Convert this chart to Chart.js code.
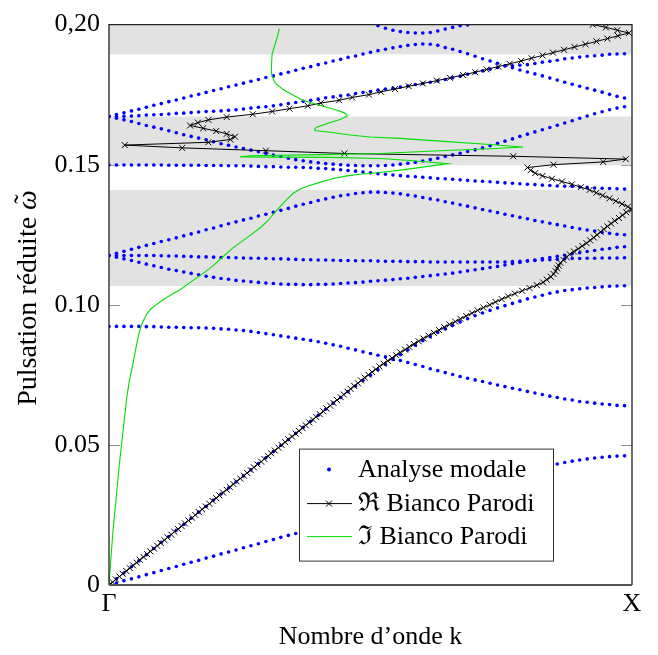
<!DOCTYPE html>
<html><head><meta charset="utf-8">
<script src="https://cdn.jsdelivr.net/npm/chart.js@4/dist/chart.umd.min.js"></script>
<style>html,body{margin:0;padding:0;background:#fff}canvas{display:block}</style>
</head><body>
<canvas id="c" width="658" height="655"></canvas>
<script>
// ---- wave numbers of the modal analysis (dots) ----
const K = [0,0.0143,0.0286,0.0429,0.0571,0.0714,0.0857,0.1,0.1143,0.1286,0.1429,0.1571,0.1714,0.1857,0.2,0.2143,0.2286,0.2429,0.2571,0.2714,0.2857,0.3,0.3143,0.3286,0.3429,0.3571,0.3714,0.3857,0.4,0.4143,0.4286,0.4429,0.4571,0.4714,0.4857,0.5,0.5143,0.5286,0.5429,0.5571,0.5714,0.5857,0.6,0.6143,0.6286,0.6429,0.6571,0.6714,0.6857,0.7,0.7143,0.7286,0.7429,0.7571,0.7714,0.7857,0.8,0.8143,0.8286,0.8429,0.8571,0.8714,0.8857,0.9,0.9143,0.9286,0.9429,0.9571,0.9714,0.9857];

// ---- modal branches (reduced pulsation at each K) ----
const MODE_1 = [0,0.0007,0.0015,0.0022,0.0029,0.0037,0.0044,0.0052,0.0059,0.0066,0.0074,0.0081,0.0088,0.0096,0.0103,0.0111,0.0118,0.0125,0.0133,0.0140,0.0147,0.0155,0.0162,0.0170,0.0177,0.0184,0.0192,0.0199,0.0206,0.0214,0.0221,0.0229,0.0236,0.0243,0.0251,0.0258,0.0265,0.0273,0.0280,0.0287,0.0295,0.0302,0.0310,0.0317,0.0324,0.0332,0.0339,0.0346,0.0354,0.0361,0.0368,0.0375,0.0382,0.0389,0.0396,0.0402,0.0408,0.0414,0.0420,0.0426,0.0432,0.0437,0.0442,0.0446,0.0450,0.0453,0.0456,0.0458,0.0460,0.0461];
const MODE_2 = [0.0923,0.0923,0.0923,0.0923,0.0923,0.0922,0.0922,0.0921,0.0920,0.0920,0.0919,0.0918,0.0918,0.0917,0.0916,0.0914,0.0913,0.0910,0.0908,0.0905,0.0901,0.0897,0.0893,0.0889,0.0885,0.0881,0.0877,0.0873,0.0868,0.0863,0.0857,0.0852,0.0845,0.0839,0.0832,0.0826,0.0820,0.0814,0.0807,0.0801,0.0794,0.0787,0.0780,0.0772,0.0765,0.0758,0.0751,0.0744,0.0738,0.0732,0.0726,0.0720,0.0714,0.0708,0.0702,0.0697,0.0691,0.0685,0.0680,0.0674,0.0669,0.0664,0.0660,0.0655,0.0652,0.0649,0.0646,0.0644,0.0641,0.0640];
const MODE_3 = [0,0.0022,0.0043,0.0065,0.0086,0.0108,0.0130,0.0152,0.0173,0.0195,0.0216,0.0238,0.0260,0.0281,0.0303,0.0325,0.0346,0.0368,0.0389,0.0411,0.0433,0.0454,0.0476,0.0498,0.0519,0.0541,0.0563,0.0584,0.0606,0.0627,0.0649,0.0669,0.0690,0.0710,0.0730,0.0749,0.0768,0.0787,0.0805,0.0822,0.0839,0.0856,0.0872,0.0886,0.0901,0.0914,0.0927,0.0939,0.0950,0.0961,0.0971,0.0980,0.0989,0.0997,0.1005,0.1013,0.1021,0.1028,0.1034,0.1041,0.1046,0.1051,0.1054,0.1057,0.1060,0.1062,0.1064,0.1066,0.1067,0.1068];
const MODE_4 = [0.1176,0.1170,0.1164,0.1158,0.1152,0.1145,0.1139,0.1133,0.1127,0.1122,0.1117,0.1112,0.1107,0.1102,0.1098,0.1094,0.1091,0.1087,0.1085,0.1082,0.1080,0.1078,0.1076,0.1074,0.1073,0.1073,0.1072,0.1072,0.1073,0.1073,0.1074,0.1076,0.1078,0.1079,0.1081,0.1084,0.1086,0.1088,0.1090,0.1093,0.1095,0.1098,0.1101,0.1104,0.1107,0.1110,0.1113,0.1117,0.1121,0.1125,0.1129,0.1133,0.1137,0.1142,0.1147,0.1151,0.1156,0.1160,0.1165,0.1169,0.1173,0.1177,0.1182,0.1186,0.1190,0.1194,0.1198,0.1201,0.1205,0.1207];
const MODE_5 = [0.1176,0.1176,0.1176,0.1176,0.1176,0.1176,0.1176,0.1175,0.1174,0.1174,0.1173,0.1172,0.1171,0.1171,0.1170,0.1169,0.1169,0.1168,0.1167,0.1166,0.1166,0.1165,0.1164,0.1164,0.1163,0.1162,0.1161,0.1161,0.1160,0.1160,0.1159,0.1158,0.1158,0.1157,0.1157,0.1157,0.1156,0.1155,0.1155,0.1155,0.1154,0.1154,0.1154,0.1153,0.1153,0.1153,0.1153,0.1153,0.1153,0.1153,0.1153,0.1153,0.1153,0.1153,0.1154,0.1155,0.1157,0.1158,0.1160,0.1161,0.1163,0.1164,0.1165,0.1165,0.1166,0.1166,0.1167,0.1167,0.1167,0.1168];
const MODE_6 = [0.1176,0.1184,0.1191,0.1198,0.1205,0.1212,0.1219,0.1226,0.1232,0.1239,0.1246,0.1253,0.1260,0.1268,0.1274,0.1282,0.1289,0.1296,0.1303,0.1309,0.1317,0.1323,0.1330,0.1337,0.1344,0.1352,0.1359,0.1365,0.1372,0.1378,0.1384,0.1389,0.1393,0.1397,0.1400,0.1402,0.1402,0.1401,0.1399,0.1396,0.1392,0.1388,0.1383,0.1378,0.1374,0.1368,0.1363,0.1357,0.1352,0.1346,0.1340,0.1335,0.1329,0.1323,0.1318,0.1312,0.1307,0.1301,0.1296,0.1291,0.1286,0.1281,0.1276,0.1271,0.1267,0.1263,0.1259,0.1255,0.1252,0.1250];
const MODE_7 = [0.1499,0.1499,0.1499,0.1499,0.1499,0.1499,0.1499,0.1499,0.1498,0.1498,0.1498,0.1498,0.1498,0.1497,0.1497,0.1497,0.1496,0.1496,0.1496,0.1495,0.1494,0.1493,0.1493,0.1492,0.1491,0.1491,0.1490,0.1489,0.1487,0.1486,0.1484,0.1482,0.1479,0.1477,0.1474,0.1471,0.1468,0.1466,0.1463,0.1461,0.1459,0.1457,0.1455,0.1453,0.1451,0.1450,0.1448,0.1446,0.1444,0.1442,0.1441,0.1439,0.1437,0.1435,0.1434,0.1432,0.1430,0.1429,0.1427,0.1426,0.1424,0.1423,0.1422,0.1420,0.1419,0.1417,0.1416,0.1415,0.1414,0.1413];
const MODE_8 = [0.1672,0.1666,0.1660,0.1654,0.1647,0.1640,0.1634,0.1628,0.1621,0.1614,0.1607,0.1601,0.1595,0.1589,0.1582,0.1575,0.1569,0.1563,0.1558,0.1552,0.1546,0.1540,0.1534,0.1529,0.1523,0.1518,0.1514,0.1510,0.1507,0.1504,0.1502,0.1500,0.1498,0.1497,0.1496,0.1496,0.1496,0.1497,0.1499,0.1502,0.1505,0.1509,0.1513,0.1518,0.1523,0.1529,0.1535,0.1541,0.1547,0.1553,0.1560,0.1568,0.1576,0.1584,0.1592,0.1601,0.1609,0.1617,0.1625,0.1633,0.1641,0.1649,0.1657,0.1666,0.1674,0.1682,0.1689,0.1696,0.1702,0.1707];
const MODE_9 = [0.1672,0.1672,0.1673,0.1674,0.1675,0.1677,0.1678,0.1679,0.1681,0.1683,0.1684,0.1686,0.1688,0.1690,0.1691,0.1692,0.1694,0.1696,0.1699,0.1702,0.1705,0.1707,0.1710,0.1714,0.1718,0.1722,0.1726,0.1730,0.1734,0.1739,0.1742,0.1746,0.1749,0.1754,0.1758,0.1761,0.1766,0.1770,0.1773,0.1777,0.1781,0.1786,0.1790,0.1794,0.1799,0.1804,0.1810,0.1816,0.1823,0.1829,0.1835,0.1841,0.1847,0.1852,0.1853,0.1855,0.1857,0.1861,0.1866,0.1869,0.1873,0.1878,0.1881,0.1884,0.1887,0.1889,0.1891,0.1894,0.1895,0.1896];
const MODE_10 = [0.1672,0.1679,0.1685,0.1692,0.1698,0.1705,0.1712,0.1718,0.1725,0.1731,0.1738,0.1745,0.1751,0.1758,0.1765,0.1771,0.1778,0.1784,0.1791,0.1798,0.1804,0.1811,0.1817,0.1824,0.1830,0.1837,0.1844,0.1850,0.1857,0.1863,0.1870,0.1876,0.1883,0.1888,0.1895,0.1901,0.1907,0.1912,0.1917,0.1922,0.1926,0.1929,0.1931,0.1930,0.1926,0.1918,0.1912,0.1904,0.1896,0.1887,0.1878,0.1870,0.1862,0.1853,0.1846,0.1838,0.1831,0.1824,0.1817,0.1809,0.1802,0.1794,0.1787,0.1780,0.1773,0.1766,0.1759,0.1751,0.1744,0.1738];
const MODE_11 = [null,null,null,null,null,null,null,null,null,null,null,null,null,null,null,null,null,null,null,null,null,null,null,null,null,null,null,null,null,null,null,null,null,null,null,null,0.1996,0.1987,0.1980,0.1975,0.1972,0.1970,0.1970,0.1972,0.1977,0.1984,0.1990,0.1996,0.1999,null,null,null,null,null,null,null,null,null,null,null,null,null,null,null,null,null,null,null,null,null];
const MODES = [MODE_1, MODE_2, MODE_3, MODE_4, MODE_5, MODE_6, MODE_7, MODE_8, MODE_9, MODE_10, MODE_11];

// ---- Bianco-Parodi: pulsation grid, real part of k ----
const W = [0,0.001,0.002,0.003,0.004,0.005,0.006,0.007,0.008,0.009,0.010,0.011,0.012,0.013,0.014,0.015,0.016,0.017,0.018,0.019,0.020,0.021,0.022,0.023,0.024,0.025,0.026,0.027,0.028,0.029,0.030,0.031,0.032,0.033,0.034,0.035,0.036,0.037,0.038,0.039,0.040,0.041,0.042,0.043,0.044,0.045,0.046,0.047,0.048,0.049,0.050,0.051,0.052,0.053,0.054,0.055,0.056,0.057,0.058,0.059,0.060,0.061,0.062,0.063,0.064,0.065,0.066,0.067,0.068,0.069,0.070,0.071,0.072,0.073,0.074,0.075,0.076,0.077,0.078,0.079,0.080,0.081,0.082,0.083,0.084,0.085,0.086,0.087,0.088,0.089,0.090,0.091,0.092,0.093,0.094,0.095,0.096,0.097,0.098,0.099,0.100,0.101,0.102,0.103,0.104,0.105,0.106,0.107,0.108,0.109,0.110,0.111,0.112,0.113,0.114,0.115,0.116,0.117,0.118,0.119,0.120,0.121,0.122,0.123,0.124,0.125,0.126,0.127,0.128,0.129,0.130,0.131,0.132,0.133,0.134,0.135,0.136,0.137,0.138,0.139,0.140,0.141,0.142,0.143,0.144,0.145,0.146,0.147,0.148,0.149,0.150,0.151,0.152,0.153,0.154,0.155,0.156,0.157,0.158,0.159,0.160,0.161,0.162,0.163,0.164,0.165,0.166,0.167,0.168,0.169,0.170,0.171,0.172,0.173,0.174,0.175,0.176,0.177,0.178,0.179,0.180,0.181,0.182,0.183,0.184,0.185,0.186,0.187,0.188,0.189,0.190,0.191,0.192,0.193,0.194,0.195,0.196,0.197,0.198,0.199,0.200];
const RE_K = [0,0.007,0.013,0.020,0.026,0.033,0.040,0.046,0.053,0.059,0.066,0.073,0.079,0.086,0.092,0.099,0.106,0.112,0.119,0.125,0.132,0.139,0.145,0.152,0.159,0.165,0.172,0.178,0.185,0.192,0.198,0.205,0.211,0.218,0.225,0.231,0.238,0.244,0.251,0.258,0.264,0.271,0.277,0.284,0.291,0.297,0.304,0.310,0.317,0.324,0.330,0.337,0.343,0.350,0.357,0.363,0.370,0.376,0.383,0.390,0.396,0.403,0.410,0.416,0.423,0.429,0.436,0.443,0.449,0.456,0.462,0.469,0.476,0.482,0.489,0.496,0.503,0.510,0.517,0.525,0.533,0.541,0.549,0.557,0.566,0.574,0.583,0.592,0.601,0.611,0.621,0.631,0.641,0.651,0.662,0.672,0.683,0.694,0.705,0.716,0.728,0.739,0.751,0.763,0.776,0.790,0.804,0.818,0.830,0.837,0.845,0.850,0.854,0.857,0.860,0.863,0.869,0.875,0.881,0.889,0.897,0.905,0.913,0.920,0.927,0.933,0.940,0.946,0.953,0.960,0.967,0.975,0.982,0.989,1.000,0.992,0.981,0.969,0.957,0.944,0.932,0.919,0.902,0.885,0.866,0.847,0.829,0.815,0.806,0.800,0.850,0.945,0.988,0.773,0.450,0.300,0.140,0.030,0.190,0.232,0.241,0.225,0.205,0.180,0.155,0.170,0.190,0.225,0.275,0.312,0.345,0.380,0.405,0.440,0.465,0.497,0.520,0.547,0.573,0.600,0.627,0.652,0.677,0.700,0.722,0.744,0.766,0.788,0.808,0.829,0.849,0.870,0.890,0.911,0.932,0.953,0.973,0.994,0.972,0.950,0.925];

// ---- Bianco-Parodi: imaginary part of k (pulsation, value) ----
const IM_W = [0,0.0100,0.0195,0.0300,0.0431,0.0550,0.0667,0.0730,0.0785,0.0850,0.0903,0.0935,0.0967,0.0985,0.0997,0.1012,0.1026,0.1040,0.1054,0.1080,0.1104,0.1122,0.1140,0.1168,0.1204,0.1239,0.1274,0.1300,0.1324,0.1357,0.1380,0.1398,0.1412,0.1422,0.1437,0.1451,0.1460,0.1466,0.1472,0.1485,0.1504,0.1515,0.1522,0.1526,0.1527,0.1528,0.1532,0.1536,0.1540,0.1550,0.1557,0.1563,0.1572,0.1584,0.1594,0.1599,0.1606,0.1616,0.1622,0.1628,0.1634,0.1646,0.1661,0.1671,0.1678,0.1685,0.1695,0.1705,0.1729,0.1764,0.1788,0.1805,0.1823,0.1851,0.1894,0.1929,0.1958,0.1986];
const IM_K = [0,0.0039,0.0077,0.0131,0.0198,0.0269,0.0338,0.0390,0.0453,0.0519,0.0580,0.0635,0.0721,0.0800,0.0880,0.0990,0.1103,0.1230,0.1358,0.1553,0.1740,0.1870,0.1995,0.2155,0.2377,0.2633,0.2887,0.3040,0.3142,0.3302,0.3420,0.3524,0.3650,0.3780,0.4030,0.4289,0.4550,0.4799,0.5180,0.5755,0.6480,0.5755,0.5180,0.4226,0.3270,0.2505,0.2696,0.4034,0.5180,0.6329,0.7285,0.7916,0.7285,0.6329,0.5564,0.4990,0.4608,0.4226,0.3939,0.3930,0.3971,0.4163,0.4417,0.4532,0.4550,0.4500,0.4350,0.4163,0.3715,0.3365,0.3193,0.3141,0.3111,0.3107,0.3117,0.3174,0.3222,0.3256];

// ---- shaded bands, ticks ----
const BAND_LO = [0.1067, 0.1498, 0.1894];
const BAND_HI = [0.1410, 0.1672, 0.2000];
const X_TICKS = [0, 1];
const X_LABELS = ['Γ', 'X'];
const Y_TICKS = [0, 0.05, 0.10, 0.15, 0.20];
const Y_LABELS = ['0', '0.05', '0.10', '0.15', '0,20'];
const Y_MINOR = [0.05, 0.10, 0.15];

const SERIF = "'Liberation Serif','Times New Roman','DejaVu Serif',serif";
const FS = 26;
const FS_YT = 28;

const zip = (xs, ys) => xs.map((x, i) => ({x: x, y: ys[i]})).filter(p => p.y !== null && p.y !== undefined);

const datasets = [];
datasets.push({
  label: 'ℑ Bianco Parodi', data: IM_W.map((w, i) => ({x: IM_K[i], y: w})),
  showLine: true, borderColor: '#00e000', borderWidth: 1.1, pointRadius: 0, tension: 0, order: 1
});
datasets.push({
  label: 'ℜ Bianco Parodi', data: W.map((w, i) => ({x: RE_K[i], y: w})),
  showLine: true, borderColor: '#000', borderWidth: 1, tension: 0,
  pointStyle: 'crossRot', pointRadius: 4.2, pointBorderColor: '#000', pointBorderWidth: 1,
  pointBackgroundColor: 'rgba(0,0,0,0)', order: 2
});
MODES.forEach((m, j) => datasets.push({
  label: j === 0 ? 'Analyse modale' : '', data: zip(K, m), showLine: false,
  pointRadius: 1.8, pointBorderWidth: 0, pointBackgroundColor: '#0000ff', order: 3
}));

const deco = {
  id: 'deco',
  beforeDatasetsDraw(chart) {
    const {ctx, chartArea: a, scales: {y}} = chart;
    ctx.save();
    ctx.strokeStyle = '#8c8c8c'; ctx.lineWidth = 1;
    Y_MINOR.forEach(v => {
      const py = Math.round(y.getPixelForValue(v)) + 0.5;
      ctx.beginPath(); ctx.moveTo(a.left, py); ctx.lineTo(a.left + 11, py);
      ctx.moveTo(a.right - 11, py); ctx.lineTo(a.right, py); ctx.stroke();
    });
    ctx.fillStyle = '#e2e2e2';
    BAND_LO.forEach((lo, i) => {
      const t = y.getPixelForValue(BAND_HI[i]), b = y.getPixelForValue(lo);
      ctx.fillRect(a.left, t, a.right - a.left, b - t);
    });
    ctx.restore();
  },
  afterDatasetsDraw(chart) {
    const {ctx, chartArea: a} = chart;
    ctx.save();
    // axis box
    ctx.lineWidth = 1.3; ctx.strokeStyle = '#222';
    ctx.beginPath();
    ctx.moveTo(a.left, a.bottom); ctx.lineTo(a.left, a.top); ctx.lineTo(a.right, a.top); ctx.lineTo(a.right, a.bottom);
    ctx.stroke();
    ctx.strokeStyle = '#555'; ctx.lineWidth = 1.8;
    ctx.beginPath(); ctx.moveTo(a.left, a.bottom); ctx.lineTo(a.right, a.bottom); ctx.stroke();

    // legend
    const lx = a.left + 190, ly = a.top + 424, lw = 254, lh = 112;
    ctx.fillStyle = '#fff'; ctx.fillRect(lx, ly, lw, lh);
    ctx.strokeStyle = '#333'; ctx.lineWidth = 1; ctx.strokeRect(lx + 0.5, ly + 0.5, lw, lh);
    const sx0 = lx + 8, sx1 = lx + 53, sc = lx + 30, tx = lx + 59;
    const rows = [ly + 21, ly + 55, ly + 88];
    ctx.fillStyle = '#0000ff';
    ctx.beginPath(); ctx.arc(sc, rows[0], 2, 0, Math.PI * 2); ctx.fill();
    ctx.strokeStyle = '#000'; ctx.lineWidth = 1;
    ctx.beginPath(); ctx.moveTo(sx0, rows[1]); ctx.lineTo(sx1, rows[1]); ctx.stroke();
    const d = 3;
    ctx.beginPath(); ctx.moveTo(sc - d, rows[1] - d); ctx.lineTo(sc + d, rows[1] + d);
    ctx.moveTo(sc - d, rows[1] + d); ctx.lineTo(sc + d, rows[1] - d); ctx.stroke();
    ctx.strokeStyle = '#00e000';
    ctx.beginPath(); ctx.moveTo(sx0, rows[2]); ctx.lineTo(sx1, rows[2]); ctx.stroke();
    ctx.fillStyle = '#000'; ctx.font = FS + 'px ' + SERIF; ctx.textBaseline = 'middle'; ctx.textAlign = 'left';
    ctx.fillText('Analyse modale', tx, rows[0] + 1);
    ctx.fillText('ℜ Bianco Parodi', tx, rows[1] + 1);
    ctx.fillText('ℑ Bianco Parodi', tx, rows[2] + 1);

    // axis titles
    ctx.textAlign = 'center';
    ctx.fillText('Nombre d’onde k', (a.left + a.right) / 2, a.bottom + 52);
    ctx.translate(27, 298);
    ctx.rotate(-Math.PI / 2);
    const p1 = 'Pulsation réduite ', p2 = 'ω';
    ctx.font = FS_YT + 'px ' + SERIF; const w1 = ctx.measureText(p1).width;
    ctx.font = 'italic ' + FS_YT + 'px ' + SERIF; const w2 = ctx.measureText(p2).width;
    const x0 = -(w1 + w2) / 2;
    ctx.textAlign = 'left'; ctx.textBaseline = 'alphabetic';
    ctx.font = FS_YT + 'px ' + SERIF; ctx.fillText(p1, x0, 9);
    ctx.font = 'italic ' + FS_YT + 'px ' + SERIF; ctx.fillText(p2, x0 + w1, 9);
    ctx.textAlign = 'center'; ctx.font = FS_YT + 'px ' + SERIF;
    ctx.fillText('˜', x0 + w1 + w2 / 2 + 1, 6);
    ctx.restore();
  }
};

new Chart(document.getElementById('c'), {
  type: 'scatter',
  data: {datasets},
  options: {
    responsive: false, animation: false, devicePixelRatio: 1, events: [],
    layout: {padding: {top: 20, right: 26, left: 0, bottom: 0}},
    plugins: {legend: {display: false}, tooltip: {enabled: false}},
    scales: {
      x: {
        type: 'linear', min: 0, max: 1,
        grid: {display: false, drawTicks: false}, border: {display: false},
        afterBuildTicks: s => { s.ticks = X_TICKS.map(v => ({value: v})); },
        afterFit: s => { s.height = 70; },
        ticks: {callback: (v, i) => X_LABELS[i], font: {family: SERIF, size: FS}, color: '#000', padding: 4, maxRotation: 0, autoSkip: false}
      },
      y: {
        type: 'linear', min: 0, max: 0.2,
        grid: {display: false, drawTicks: false}, border: {display: false},
        afterBuildTicks: s => { s.ticks = Y_TICKS.map(v => ({value: v})); },
        afterFit: s => { s.width = 109; },
        ticks: {callback: (v, i) => Y_LABELS[i], font: {family: SERIF, size: FS}, color: '#000', padding: 9, autoSkip: false}
      }
    }
  },
  plugins: [deco]
});
</script>
</body></html>
